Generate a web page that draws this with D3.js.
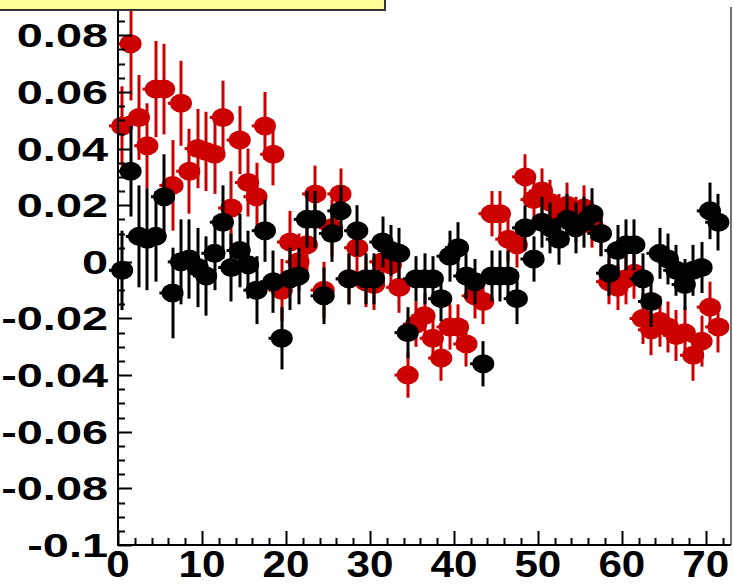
<!DOCTYPE html>
<html><head><meta charset="utf-8">
<script src="https://cdn.jsdelivr.net/npm/d3@7"></script>
<style>html,body{margin:0;padding:0;background:#fff;overflow:hidden}</style>
</head><body>
<script>
const binCenters = [0.5,1.5,2.5,3.5,4.5,5.5,6.5,7.5,8.5,9.5,10.5,11.5,12.5,13.5,14.5,15.5,16.5,17.5,18.5,19.5,20.5,21.5,22.5,23.5,24.5,25.5,26.5,27.5,28.5,29.5,30.5,31.5,32.5,33.5,34.5,35.5,36.5,37.5,38.5,39.5,40.5,41.5,42.5,43.5,44.5,45.5,46.5,47.5,48.5,49.5,50.5,51.5,52.5,53.5,54.5,55.5,56.5,57.5,58.5,59.5,60.5,61.5,62.5,63.5,64.5,65.5,66.5,67.5,68.5,69.5,70.5,71.5];
const redValues = [0.048,0.077,0.051,0.041,0.061,0.061,0.027,0.056,0.032,0.040,0.039,0.038,0.051,0.019,0.043,0.028,0.023,0.048,0.038,-0.010,0.007,0.000,0.006,0.024,-0.010,0.012,0.024,-0.006,0.005,-0.007,-0.008,0.000,-0.001,-0.009,-0.040,-0.022,-0.019,-0.027,-0.034,-0.023,-0.023,-0.029,-0.012,-0.014,0.017,0.017,0.008,0.006,0.030,0.022,0.025,0.021,0.016,0.020,0.015,0.019,0.013,0.010,-0.007,-0.009,-0.006,-0.004,-0.020,-0.024,-0.021,-0.023,-0.026,-0.025,-0.033,-0.028,-0.016,-0.023];
const redErrors = [0.014,0.020,0.015,0.015,0.017,0.016,0.016,0.015,0.015,0.014,0.014,0.014,0.013,0.013,0.012,0.012,0.012,0.012,0.011,0.011,0.011,0.010,0.010,0.010,0.010,0.010,0.009,0.009,0.009,0.009,0.009,0.009,0.009,0.009,0.008,0.008,0.008,0.008,0.008,0.008,0.008,0.008,0.008,0.008,0.008,0.008,0.008,0.008,0.008,0.008,0.008,0.008,0.008,0.008,0.008,0.008,0.008,0.008,0.008,0.008,0.009,0.009,0.009,0.009,0.009,0.009,0.009,0.009,0.009,0.009,0.009,0.009];
const blackValues = [-0.003,0.032,0.009,0.008,0.009,0.023,-0.011,0.000,0.001,-0.002,-0.005,0.003,0.014,-0.002,0.004,-0.001,-0.010,0.011,-0.007,-0.027,-0.006,-0.005,0.015,0.015,-0.012,0.010,0.018,-0.006,0.011,-0.006,-0.006,0.007,0.004,0.003,-0.025,-0.006,-0.006,-0.006,-0.013,0.002,0.005,-0.005,-0.007,-0.036,-0.005,-0.005,-0.005,-0.013,0.012,0.001,0.014,0.012,0.008,0.015,0.012,0.014,0.017,0.010,-0.004,0.004,0.006,0.006,-0.006,-0.014,0.003,0.001,-0.003,-0.008,-0.003,-0.002,0.018,0.014];
const blackErrors = [0.014,0.016,0.018,0.018,0.016,0.015,0.016,0.015,0.014,0.014,0.014,0.013,0.013,0.012,0.013,0.012,0.012,0.011,0.011,0.011,0.011,0.010,0.010,0.010,0.010,0.010,0.009,0.009,0.009,0.009,0.009,0.009,0.009,0.009,0.009,0.008,0.009,0.008,0.008,0.009,0.009,0.008,0.008,0.008,0.009,0.009,0.009,0.009,0.008,0.008,0.009,0.009,0.009,0.009,0.009,0.009,0.009,0.008,0.008,0.009,0.009,0.009,0.009,0.009,0.009,0.009,0.009,0.009,0.009,0.009,0.010,0.010];
const xTickLabels = ["0","10","20","30","40","50","60","70"];
const yTickLabels = ["0.08","0.06","0.04","0.02","0","-0.02","-0.04","-0.06","-0.08","-0.1"];
const yTickValues = [0.08,0.06,0.04,0.02,0,-0.02,-0.04,-0.06,-0.08,-0.1];

const W = 734, H = 584;
const pLeft = 118, pRight = 731, pTop = 7, pBottom = 545;
const x = d3.scaleLinear().domain([0, 73]).range([pLeft, pRight]);
const y = d3.scaleLinear().domain([-0.1, 0.09]).range([pBottom, pTop]);

const svg = d3.select("body").append("svg").attr("width", W).attr("height", H)
  .style("font-family", "'Liberation Sans', Arial, Helvetica, sans-serif");

// frame (right edge)
svg.append("line").attr("x1", pRight).attr("x2", pRight).attr("y1", pTop).attr("y2", pBottom)
  .attr("stroke", "#444").attr("stroke-width", 1.5);

function series(vals, errs, color) {
  const g = svg.append("g");
  g.selectAll("line.err").data(vals).join("line").attr("class", "err")
    .attr("x1", (d, i) => Math.round(x(binCenters[i])))
    .attr("x2", (d, i) => Math.round(x(binCenters[i])))
    .attr("y1", (d, i) => y(d + errs[i]))
    .attr("y2", (d, i) => y(d - errs[i]))
    .attr("stroke", color).attr("stroke-width", 3);
  g.selectAll("line.xerr").data(vals).join("line").attr("class", "xerr")
    .attr("x1", (d, i) => x(binCenters[i] - 0.5) - 9)
    .attr("x2", (d, i) => x(binCenters[i] + 0.5) - 4)
    .attr("y1", d => y(d)).attr("y2", d => y(d))
    .attr("stroke", color).attr("stroke-width", 3);
  g.selectAll("ellipse").data(vals).join("ellipse")
    .attr("cx", (d, i) => x(binCenters[i]))
    .attr("cy", d => y(d))
    .attr("rx", 11).attr("ry", 9.5)
    .attr("fill", color);
}
series(redValues, redErrors, "#cc0000");
series(blackValues, blackErrors, "#000000");

// y axis
const yAxisG = svg.append("g");
yAxisG.append("line").attr("x1", pLeft).attr("x2", pLeft).attr("y1", pTop).attr("y2", pBottom)
  .attr("stroke", "#000").attr("stroke-width", 2);
const yMinor = d3.range(-100, 91, 5).map(v => v / 1000);
yAxisG.selectAll("line.tk").data(yMinor).join("line").attr("class", "tk")
  .attr("x1", pLeft).attr("x2", v => pLeft + (Math.abs(Math.round(v * 1000)) % 20 === 0 ? 14 : 7))
  .attr("y1", v => Math.round(y(v)) + 0.5).attr("y2", v => Math.round(y(v)) + 0.5)
  .attr("stroke", "#000").attr("stroke-width", 2);
yAxisG.selectAll("text").data(yTickValues).join("text")
  .attr("transform", v => `translate(108,${y(v) + 12}) scale(1.42,1)`)
  .attr("text-anchor", "end").attr("font-weight", "bold").attr("font-size", 33)
  .attr("fill", "#000")
  .text((v, i) => yTickLabels[i]);

// x axis
const xAxisG = svg.append("g");
xAxisG.append("line").attr("x1", pLeft - 1).attr("x2", pRight).attr("y1", pBottom).attr("y2", pBottom)
  .attr("stroke", "#000").attr("stroke-width", 2);
const xMinor = d3.range(0, 73, 2);
xAxisG.selectAll("line.tk").data(xMinor).join("line").attr("class", "tk")
  .attr("x1", v => Math.round(x(v)) + 0.5).attr("x2", v => Math.round(x(v)) + 0.5)
  .attr("y1", pBottom).attr("y2", v => pBottom - (v % 10 === 0 ? 14 : 7))
  .attr("stroke", "#000").attr("stroke-width", 2);
xAxisG.selectAll("text").data(xTickLabels).join("text")
  .attr("transform", (t) => `translate(${x(+t)},577) scale(1.14,1)`)
  .attr("text-anchor", "middle").attr("font-weight", "bold").attr("font-size", 37)
  .attr("fill", "#000")
  .text(t => t);

// yellow box (cut-off title/legend)
svg.append("rect").attr("x", -2).attr("y", -2).attr("width", 387).attr("height", 12)
  .attr("fill", "#ffff99").attr("stroke", "#333").attr("stroke-width", 2);
</script>
</body></html>
